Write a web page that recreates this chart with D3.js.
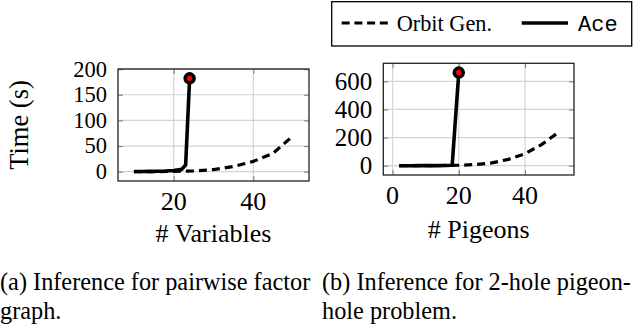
<!DOCTYPE html>
<html>
<head>
<meta charset="utf-8">
<script src="https://cdn.jsdelivr.net/npm/d3@7"></script>
<style>
    body { margin: 0; background: #fff; }
    svg text { font-family: "Liberation Serif", "Times New Roman", serif; fill: #000; }
</style>
</head>
<body>
<div id="chart"></div>
<script>
    'use strict';

    // panel (a): pairwise factor graph
    var varsAce = [10, 12, 14, 16, 18, 20, 22, 23, 24];
    var timeAceA = [0.2, 0.3, 0.5, 0.8, 1.3, 2.2, 4.5, 13, 182];
    var varsOrbit = [10, 15, 20, 25, 30, 35, 40, 45, 50];
    var timeOrbitA = [0, 0.1, 0.5, 1.5, 4, 10, 20, 36, 70];
    var xTicksA = [20, 40];
    var yTicksA = [0, 50, 100, 150, 200];

    // panel (b): 2-hole pigeonhole
    var pigeonsAce = [2, 4, 6, 8, 10, 12, 14, 16, 18, 20];
    var timeAceB = [0, 0, 0.1, 0.2, 0.3, 0.5, 0.8, 1.3, 3, 662];
    var pigeonsOrbit = [2, 5, 10, 15, 20, 25, 30, 35, 40, 45, 50];
    var timeOrbitB = [0, 0, 0.5, 1.5, 3, 8, 20, 45, 85, 150, 235];
    var xTicksB = [0, 20, 40];
    var yTicksB = [0, 200, 400, 600];

    var legendNames = ["Orbit Gen.", "Ace"];

    var width = 634, height = 330;
    var grid_color = "#d4d4d4";
    var tick_color = "#8a8a8a";

    var svg = d3.select("#chart").append("svg")
        .attr("width", width)
        .attr("height", height);

    function zip(xs, ys) {
        return xs.map(function(x, i) { return [x, ys[i]]; });
    }

    // pgfplots style: enlarge limits by 10% of the data range
    function enlarged(values) {
        var ext = d3.extent(values);
        var pad = (ext[1] - ext[0]) * 0.1;
        return [ext[0] - pad, ext[1] + pad];
    }

    function drawPanel(cfg) {
        var ace = zip(cfg.aceX, cfg.aceY);
        var orbit = zip(cfg.orbitX, cfg.orbitY);

        var x = d3.scaleLinear()
            .domain(enlarged(cfg.aceX.concat(cfg.orbitX)))
            .range([cfg.left, cfg.right]);
        var y = d3.scaleLinear()
            .domain(enlarged(cfg.aceY.concat(cfg.orbitY)))
            .range([cfg.bottom, cfg.top]);

        var g = svg.append("g").attr("class", "panel");

        // grid
        g.selectAll(".vgrid").data(cfg.xTicks).enter().append("line")
            .attr("x1", function(d) { return x(d); })
            .attr("x2", function(d) { return x(d); })
            .attr("y1", cfg.top).attr("y2", cfg.bottom)
            .style("stroke", grid_color).style("stroke-width", 1.2);
        g.selectAll(".hgrid").data(cfg.yTicks).enter().append("line")
            .attr("y1", function(d) { return y(d); })
            .attr("y2", function(d) { return y(d); })
            .attr("x1", cfg.left).attr("x2", cfg.right)
            .style("stroke", grid_color).style("stroke-width", 1.2);

        // ticks on all four sides, pointing inwards
        var axes = [
            d3.axisBottom(x).tickValues(cfg.xTicks).tickSizeInner(-5).tickSizeOuter(0).tickFormat(""),
            d3.axisTop(x).tickValues(cfg.xTicks).tickSizeInner(-5).tickSizeOuter(0).tickFormat(""),
            d3.axisLeft(y).tickValues(cfg.yTicks).tickSizeInner(-5).tickSizeOuter(0).tickFormat(""),
            d3.axisRight(y).tickValues(cfg.yTicks).tickSizeInner(-5).tickSizeOuter(0).tickFormat("")
        ];
        var pos = [
            "translate(0," + cfg.bottom + ")",
            "translate(0," + cfg.top + ")",
            "translate(" + cfg.left + ",0)",
            "translate(" + cfg.right + ",0)"
        ];
        axes.forEach(function(ax, i) {
            var a = g.append("g").attr("transform", pos[i]).call(ax);
            a.select(".domain").remove();
            a.selectAll("line").style("stroke", tick_color).style("stroke-width", 1.2);
        });

        // tick labels
        g.selectAll(".xlab").data(cfg.xTicks).enter().append("text")
            .attr("x", function(d) { return x(d); })
            .attr("y", cfg.bottom + 29)
            .attr("text-anchor", "middle")
            .style("font-size", "26px")
            .text(function(d) { return d; });
        g.selectAll(".ylab").data(cfg.yTicks).enter().append("text")
            .attr("x", cfg.left - 11)
            .attr("y", function(d) { return y(d) + cfg.yTickSize * 0.33; })
            .attr("text-anchor", "end")
            .style("font-size", cfg.yTickSize + "px")
            .text(function(d) { return d; });

        var line = d3.line()
            .x(function(d) { return x(d[0]); })
            .y(function(d) { return y(d[1]); });

        var clip = "clip_" + cfg.id;
        g.append("clipPath").attr("id", clip).append("rect")
            .attr("x", cfg.left).attr("y", cfg.top)
            .attr("width", cfg.right - cfg.left).attr("height", cfg.bottom - cfg.top);

        g.append("path")
            .datum(orbit)
            .attr("clip-path", "url(#" + clip + ")")
            .attr("d", line)
            .style("fill", "none")
            .style("stroke", "#000")
            .style("stroke-width", 3.2)
            .style("stroke-dasharray", "8,5");

        g.append("path")
            .datum(ace)
            .attr("d", line)
            .style("fill", "none")
            .style("stroke", "#000")
            .style("stroke-width", 3.6)
            .style("stroke-linejoin", "round");

        // timeout marker at the last Ace point
        var last = ace[ace.length - 1];
        g.append("circle")
            .attr("cx", x(last[0]))
            .attr("cy", y(last[1]))
            .attr("r", 4.5)
            .style("fill", "#ff0000")
            .style("stroke", "#000")
            .style("stroke-width", 3.5);

        // box
        g.append("rect")
            .attr("x", cfg.left).attr("y", cfg.top)
            .attr("width", cfg.right - cfg.left).attr("height", cfg.bottom - cfg.top)
            .style("fill", "none").style("stroke", "#222").style("stroke-width", 1.3);

        g.append("text")
            .attr("x", (cfg.left + cfg.right) / 2)
            .attr("y", cfg.bottom + cfg.xLabelOffset)
            .attr("text-anchor", "middle")
            .style("font-size", "26px")
            .text(cfg.xLabel);

        if (cfg.yLabel) {
            g.append("text")
                .attr("transform", "translate(28," + ((cfg.top + cfg.bottom) / 2) + ")rotate(-90)")
                .attr("text-anchor", "middle")
                .style("font-size", "26.5px")
                .text(cfg.yLabel);
        }

        var cap = g.append("text")
            .attr("y", 290)
            .style("font-size", "24.3px");
        cfg.caption.forEach(function(c, i) {
            cap.append("tspan")
                .attr("x", cfg.captionX)
                .attr("y", 290 + i * 29)
                .text(c);
        });
    }

    drawPanel({
        id: "a",
        aceX: varsAce, aceY: timeAceA,
        orbitX: varsOrbit, orbitY: timeOrbitA,
        xTicks: xTicksA, yTicks: yTicksA, yTickSize: 22.5,
        left: 118, right: 309, top: 69, bottom: 181,
        xLabel: "# Variables", xLabelOffset: 61,
        yLabel: "Time (s)",
        caption: ["(a) Inference for pairwise factor", "graph."],
        captionX: 0
    });

    drawPanel({
        id: "b",
        aceX: pigeonsAce, aceY: timeAceB,
        orbitX: pigeonsOrbit, orbitY: timeOrbitB,
        xTicks: xTicksB, yTicks: yTicksB, yTickSize: 25,
        left: 383.3, right: 574, top: 63.3, bottom: 175,
        xLabel: "# Pigeons", xLabelOffset: 63,
        yLabel: null,
        caption: ["(b) Inference for 2-hole pigeon-", "hole problem."],
        captionX: 322
    });

    // legend
    var legend = svg.append("g").attr("class", "legend");
    legend.append("rect")
        .attr("x", 331.7).attr("y", 1.7)
        .attr("width", 300).attr("height", 44.3)
        .style("fill", "#fff").style("stroke", "#000").style("stroke-width", 1.3);
    legend.append("line")
        .attr("x1", 341.7).attr("x2", 388).attr("y1", 23).attr("y2", 23)
        .style("stroke", "#000").style("stroke-width", 3.2).style("stroke-dasharray", "8,4.7");
    legend.append("text")
        .attr("x", 396.7).attr("y", 31)
        .style("font-size", "22.3px")
        .text(legendNames[0]);
    legend.append("line")
        .attr("x1", 521.7).attr("x2", 568).attr("y1", 23).attr("y2", 23)
        .style("stroke", "#000").style("stroke-width", 3.6);
    legend.append("text")
        .attr("x", 578).attr("y", 31)
        .style("font-family", "'Liberation Mono', 'DejaVu Sans Mono', monospace")
        .style("font-size", "22px")
        .text(legendNames[1]);
</script>
</body>
</html>
